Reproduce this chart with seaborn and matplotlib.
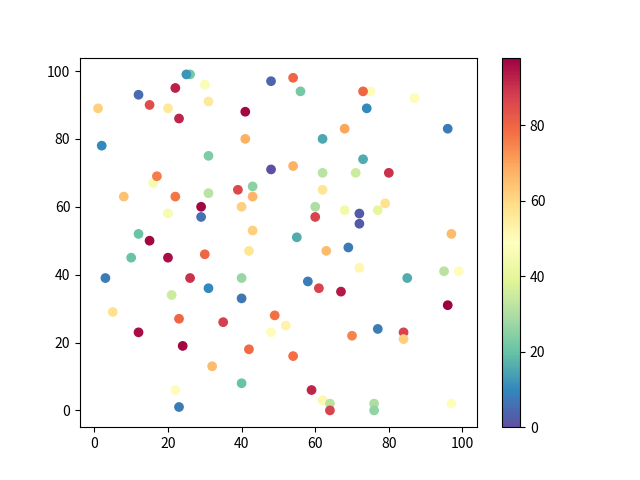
import matplotlib
matplotlib.use("Agg")
import matplotlib.pyplot as plt
import seaborn as sns
import pandas as pd

plt.rcParams['font.family'] = ['Noto Sans CJK SC', 'DejaVu Sans']

# данные точек: x, y и значение цвета
x = [1, 2, 3, 5, 8, 10, 12, 12, 12, 15, 15, 16, 17, 20, 20, 20, 21, 22, 22, 22,
     23, 23, 23, 24, 26, 25, 26, 29, 29, 30, 30, 31, 31, 31, 31, 32, 35, 39, 40, 40,
     40, 40, 41, 41, 42, 42, 43, 43, 43, 48, 48, 48, 49, 52, 54, 54, 54, 55, 56, 58,
     59, 60, 60, 61, 62, 62, 62, 62, 63, 64, 64, 67, 68, 68, 69, 70, 71, 72, 72, 72,
     75, 73, 73, 74, 77, 76, 76, 77, 79, 80, 84, 84, 85, 87, 95, 96, 96, 97, 97, 99]
y = [89, 78, 39, 29, 63, 45, 93, 52, 23, 90, 50, 67, 69, 89, 58, 45, 34, 95, 63, 6,
     86, 27, 1, 19, 99, 99, 39, 60, 57, 96, 46, 91, 75, 64, 36, 13, 26, 65, 60, 39,
     33, 8, 88, 80, 47, 18, 66, 63, 53, 97, 71, 23, 28, 25, 98, 72, 16, 51, 94, 38,
     6, 60, 57, 36, 80, 70, 65, 3, 47, 2, 0, 35, 83, 59, 48, 22, 70, 58, 55, 42,
     94, 94, 74, 89, 59, 2, 0, 24, 61, 70, 23, 21, 39, 92, 41, 83, 31, 52, 2, 41]
c = [62, 10, 8, 58, 65, 20, 5, 20, 96, 85, 97, 45, 76, 56, 45, 96, 35, 93, 77, 50,
     92, 80, 8, 97, 22, 12, 90, 97, 6, 47, 80, 56, 23, 32, 10, 66, 88, 86, 62, 27,
     7, 20, 97, 68, 57, 79, 25, 67, 62, 4, 0, 50, 78, 53, 80, 68, 78, 16, 22, 8,
     92, 30, 87, 87, 15, 32, 57, 52, 66, 32, 87, 94, 70, 44, 8, 75, 35, 2, 2, 52,
     50, 80, 16, 10, 40, 30, 26, 8, 58, 90, 87, 62, 16, 50, 32, 8, 98, 66, 48, 50]

df = pd.DataFrame({'x': x, 'y': y, 'c': c})

fig, ax = plt.subplots(figsize=(6.4, 4.8), dpi=100)
norm = plt.Normalize(min(c), max(c))
sns.scatterplot(data=df, x='x', y='y', hue='c', palette='Spectral_r',
                hue_norm=norm, s=36, linewidth=1, edgecolor='face',
                legend=False, ax=ax)
ax.set_xlabel('')
ax.set_ylabel('')

sm = plt.cm.ScalarMappable(norm=norm, cmap='Spectral_r')
fig.colorbar(sm, ax=ax)

plt.savefig('out.png')
